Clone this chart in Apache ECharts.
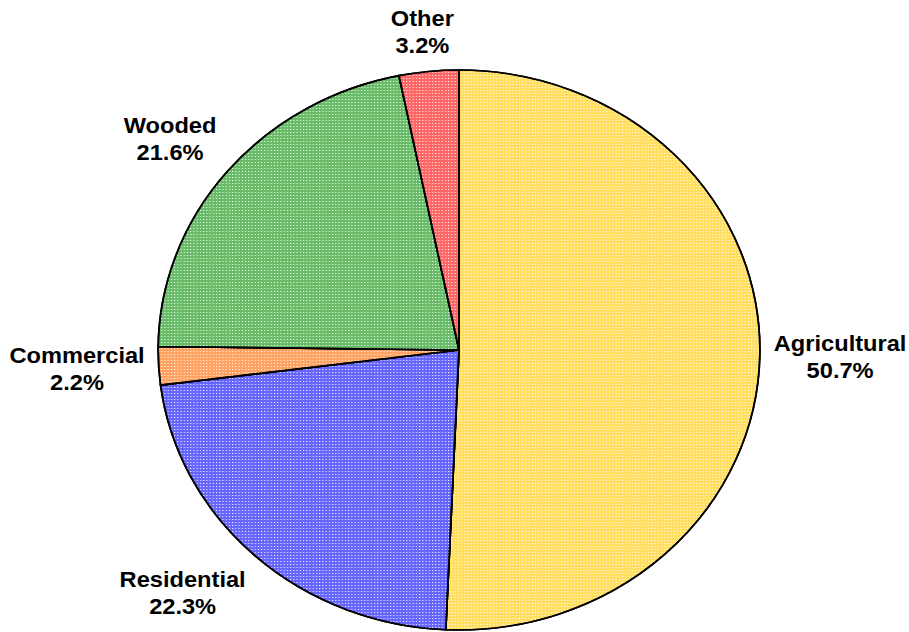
<!DOCTYPE html>
<html>
<head>
<meta charset="utf-8">
<script src="https://cdn.jsdelivr.net/npm/echarts@6/dist/echarts.min.js"></script>
<style>
  html, body { margin: 0; padding: 0; background: #ffffff; overflow: hidden; }
  #chart { width: 846px; height: 632px; transform-origin: 0 0; transform: scaleX(1.0745); }
</style>
</head>
<body>
<div id="chart"></div>
<script>
const categories = ['Agricultural', 'Residential', 'Commercial', 'Wooded', 'Other'];
const values = [50.7, 22.3, 2.2, 21.6, 3.2];
const colors = ['#FFDE60', '#6666FF', '#FFA262', '#68BC68', '#FF6666'];

const CX = 427.2, CY = 350, R = 280, GAP = 13;
const total = values.reduce((a, b) => a + b, 0);
const cum = [];
values.reduce((acc, v, i) => { cum[i] = acc; return acc + v; }, 0);

const chart = echarts.init(document.getElementById('chart'), null, { renderer: 'svg' });

const data = categories.map((name, i) => ({
  name: name,
  value: values[i],
  itemStyle: {
    color: colors[i],
    decal: {
      symbol: 'rect',
      symbolSize: 1,
      color: 'rgba(255,255,255,0.9)',
      dashArrayX: [1, 2],
      dashArrayY: [1, 2],
      rotation: 0
    }
  }
}));

function clamp(t) { return Math.max(-1, Math.min(1, t)); }

chart.setOption({
  animation: false,
  backgroundColor: '#ffffff',
  series: [{
    type: 'pie',
    center: [CX, CY],
    radius: R,
    startAngle: 90,
    clockwise: true,
    data: data,
    itemStyle: { borderColor: '#000000', borderWidth: 1.6 },
    label: {
      show: true,
      position: 'outside',
      formatter: p => p.name + '\n' + p.value.toFixed(1) + '%',
      fontFamily: '"Liberation Sans", Arial, sans-serif',
      fontWeight: 'bold',
      fontSize: 22,
      lineHeight: 27,
      color: '#000000',
      align: 'center',
      overflow: 'none',
      width: 160
    },
    labelLine: { show: false },
    labelLayout: function (params) {
      const i = params.dataIndex;
      const mid = (cum[i] + values[i] / 2) / total * Math.PI * 2;
      const ux = Math.sin(mid), uy = -Math.cos(mid);
      const px = CX + (R + GAP) * ux, py = CY + (R + GAP) * uy;
      const lines = [categories[i], values[i].toFixed(1) + '%'];
      const ctx = document.createElement('canvas').getContext('2d');
      ctx.font = 'bold 22px "Liberation Sans", Arial, sans-serif';
      const w = Math.max.apply(null, lines.map(s => ctx.measureText(s).width));
      const h = 54;
      return {
        x: px + clamp(ux * 1.6) * w / 2,
        y: py + clamp(uy * 1.4) * h / 2,
        align: 'center',
        verticalAlign: 'middle'
      };
    },
    emphasis: { disabled: true }
  }]
});
</script>
</body>
</html>
